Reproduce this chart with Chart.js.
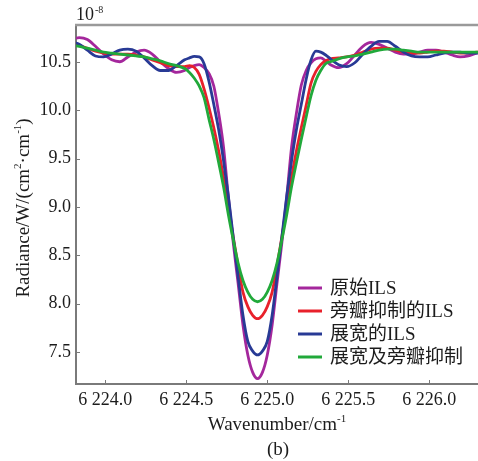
<!DOCTYPE html>
<html>
<head>
<meta charset="utf-8">
<script src="https://cdn.jsdelivr.net/npm/chart.js@4.4.1/dist/chart.umd.min.js"></script>
<style>
  html, body { margin: 0; padding: 0; background: #fff; }
  canvas { display: block; }
</style>
</head>
<body>
<canvas id="ils" width="478" height="461"></canvas>
<script>
// wavenumber grid (cm^-1), finer across the absorption line
const wavenumber = [
  6223.79, 6223.84, 6223.89, 6223.94, 6223.99, 6224.04, 6224.09, 6224.14, 6224.19, 6224.24,
  6224.29, 6224.34, 6224.39, 6224.44, 6224.49,
  6224.52, 6224.55, 6224.58, 6224.61, 6224.64, 6224.67, 6224.70, 6224.73, 6224.76, 6224.79,
  6224.82, 6224.85, 6224.88, 6224.91, 6224.94, 6224.97, 6225.00, 6225.03, 6225.06, 6225.09,
  6225.12, 6225.15, 6225.18, 6225.21, 6225.24, 6225.27, 6225.30, 6225.33, 6225.36,
  6225.39, 6225.44, 6225.49, 6225.54, 6225.59, 6225.64, 6225.69, 6225.74, 6225.79, 6225.84,
  6225.89, 6225.94, 6225.99, 6226.04, 6226.09, 6226.14, 6226.19, 6226.24, 6226.29, 6226.34
];

// radiance, units of 1e-8 W/(cm^2 cm^-1)
const rawIls = [
  10.73, 10.75, 10.73, 10.66, 10.58, 10.52, 10.50, 10.55, 10.60, 10.62,
  10.58, 10.50, 10.43, 10.39, 10.41,
  10.44, 10.46, 10.47, 10.44, 10.38, 10.25, 9.97, 9.62, 9.10, 8.63,
  8.21, 7.78, 7.47, 7.29, 7.225, 7.29, 7.47, 7.78, 8.21, 8.63,
  9.10, 9.62, 9.97, 10.26, 10.41, 10.49, 10.53, 10.54, 10.51,
  10.47, 10.44, 10.48, 10.57, 10.66, 10.70, 10.68, 10.64, 10.60, 10.58,
  10.58, 10.60, 10.62, 10.62, 10.60, 10.57, 10.55, 10.56, 10.59, 10.61
];
const suppressedIls = [
  10.69, 10.67, 10.64, 10.61, 10.59, 10.58, 10.58, 10.58, 10.57, 10.55,
  10.52, 10.49, 10.46, 10.45, 10.45,
  10.46, 10.44, 10.37, 10.22, 10.03, 9.82, 9.58, 9.31, 9.01, 8.69,
  8.39, 8.12, 7.97, 7.88, 7.845, 7.88, 7.97, 8.12, 8.39, 8.69,
  9.01, 9.31, 9.58, 9.82, 10.05, 10.28, 10.40, 10.47, 10.51,
  10.53, 10.54, 10.55, 10.57, 10.60, 10.63, 10.64, 10.64, 10.62, 10.60,
  10.59, 10.59, 10.60, 10.61, 10.61, 10.60, 10.59, 10.59, 10.60, 10.60
];
const broadenedIls = [
  10.71, 10.68, 10.62, 10.56, 10.55, 10.58, 10.62, 10.63, 10.61, 10.54,
  10.46, 10.41, 10.41, 10.46, 10.52,
  10.54, 10.555, 10.55, 10.48, 10.30, 10.06, 9.80, 9.48, 9.11, 8.69,
  8.28, 7.88, 7.61, 7.51, 7.47, 7.51, 7.61, 7.88, 8.28, 8.69,
  9.11, 9.48, 9.80, 10.06, 10.32, 10.52, 10.61, 10.60, 10.57,
  10.53, 10.47, 10.45, 10.49, 10.58, 10.66, 10.71, 10.71, 10.66, 10.60,
  10.56, 10.55, 10.55, 10.57, 10.59, 10.60, 10.60, 10.59, 10.59, 10.59
];
const broadenedSuppressed = [
  10.67, 10.66, 10.64, 10.62, 10.60, 10.59, 10.58, 10.57, 10.56, 10.55,
  10.53, 10.51, 10.48, 10.46, 10.43,
  10.39, 10.33, 10.25, 10.13, 9.91, 9.70, 9.46, 9.21, 8.92, 8.66,
  8.42, 8.24, 8.12, 8.045, 8.02, 8.045, 8.12, 8.24, 8.42, 8.66,
  8.92, 9.21, 9.46, 9.70, 9.93, 10.15, 10.31, 10.41, 10.48,
  10.50, 10.53, 10.55, 10.56, 10.58, 10.60, 10.62, 10.63, 10.63, 10.62,
  10.61, 10.60, 10.60, 10.60, 10.60, 10.60, 10.60, 10.60, 10.60, 10.60
];

const seriesLabels = ["原始ILS", "旁瓣抑制的ILS", "展宽的ILS", "展宽及旁瓣抑制"];
const seriesColors = ["#a4279c", "#e8212b", "#283a95", "#21a93a"];
const xTicks = [6224.0, 6224.5, 6225.0, 6225.5, 6226.0];
const yTicks = [7.5, 8.0, 8.5, 9.0, 9.5, 10.0, 10.5];

const serif = "'Liberation Serif', 'Times New Roman', serif";
const mixed = "'Liberation Serif', 'Noto Sans CJK SC', serif";
const axisGray = "#7a7a7a";
const textColor = "#1c1c1c";

// text with superscript runs: parts = [[text, isSup], ...]
function drawRich(ctx, parts, x, y, size) {
  const big = size + "px " + serif;
  const small = Math.round(size * 0.6) + "px " + serif;
  let total = 0;
  for (const [t, sup] of parts) {
    ctx.font = sup ? small : big;
    total += ctx.measureText(t).width;
  }
  let cx = x - total / 2;
  for (const [t, sup] of parts) {
    ctx.font = sup ? small : big;
    ctx.fillText(t, cx, sup ? y - size * 0.42 : y);
    cx += ctx.measureText(t).width;
  }
}

const decorations = {
  id: "decorations",
  afterDraw(chart) {
    const { ctx, chartArea: a, scales } = chart;
    ctx.save();

    // top frame line
    ctx.strokeStyle = "#9a9a9a";
    ctx.lineWidth = 2.5;
    ctx.beginPath();
    ctx.moveTo(a.left - 1, a.top);
    ctx.lineTo(a.right, a.top);
    ctx.stroke();

    // inward tick marks
    ctx.strokeStyle = axisGray;
    ctx.lineWidth = 1;
    ctx.beginPath();
    for (const v of xTicks) {
      const px = Math.round(scales.x.getPixelForValue(v)) + 0.5;
      ctx.moveTo(px, a.bottom);
      ctx.lineTo(px, a.bottom - 4);
    }
    for (const v of yTicks) {
      const py = Math.round(scales.y.getPixelForValue(v)) + 0.5;
      ctx.moveTo(a.left, py);
      ctx.lineTo(a.left + 4, py);
    }
    ctx.stroke();

    ctx.fillStyle = textColor;
    ctx.textBaseline = "alphabetic";
    ctx.textAlign = "left";

    // exponent above the y axis
    ctx.font = "18px " + serif;
    ctx.fillText("10", 76, 20);
    ctx.font = "10px " + serif;
    ctx.fillText("-8", 95, 13);

    // axis titles
    drawRich(ctx, [["Wavenumber/cm", false], ["-1", true]], (a.left + a.right) / 2, 430, 19);
    ctx.save();
    ctx.translate(29, 208);
    ctx.rotate(-Math.PI / 2);
    drawRich(ctx, [["Radiance/W/(cm", false], ["2", true], ["·cm", false], ["-1", true], [")", false]], 0, 0, 19);
    ctx.restore();

    ctx.font = "19px " + serif;
    ctx.textAlign = "center";
    ctx.fillText("(b)", 278, 455);

    // legend
    ctx.textAlign = "left";
    ctx.textBaseline = "middle";
    ctx.font = "19px " + mixed;
    chart.data.datasets.forEach((ds, i) => {
      const y = 288 + i * 23;
      ctx.strokeStyle = ds.borderColor;
      ctx.lineWidth = 3;
      ctx.beginPath();
      ctx.moveTo(298, y);
      ctx.lineTo(322, y);
      ctx.stroke();
      ctx.fillText(ds.label, 330, y + 1);
    });

    ctx.restore();
  }
};

const seriesData = [rawIls, suppressedIls, broadenedIls, broadenedSuppressed];
const drawOrder = [4, 3, 2, 1];

new Chart(document.getElementById("ils"), {
  type: "line",
  data: {
    datasets: seriesData.map((vals, i) => ({
      label: seriesLabels[i],
      data: wavenumber.map((w, j) => ({ x: w, y: vals[j] })),
      borderColor: seriesColors[i],
      borderWidth: 2.8,
      pointRadius: 0,
      cubicInterpolationMode: "monotone",
      fill: false,
      order: drawOrder[i]
    }))
  },
  options: {
    responsive: false,
    animation: false,
    devicePixelRatio: 1,
    layout: { padding: { top: 25, right: 0, bottom: 0, left: 0 } },
    plugins: { legend: { display: false }, tooltip: { enabled: false } },
    scales: {
      x: {
        type: "linear",
        min: 6223.82,
        max: 6226.30,
        afterFit(s) { s.height = 77; },
        afterBuildTicks(s) { s.ticks = xTicks.map(v => ({ value: v })); },
        grid: { display: false, drawTicks: false },
        border: { display: true, color: axisGray, width: 2 },
        ticks: {
          padding: 5,
          color: textColor,
          maxRotation: 0,
          autoSkip: false,
          font: { family: serif, size: 18 },
          callback: v => {
            const s = v.toFixed(1);
            return s[0] + " " + s.slice(1);
          }
        }
      },
      y: {
        type: "linear",
        min: 7.17,
        max: 10.88,
        afterFit(s) { s.width = 76; },
        afterBuildTicks(s) { s.ticks = yTicks.map(v => ({ value: v })); },
        grid: { display: false, drawTicks: false },
        border: { display: true, color: axisGray, width: 2 },
        ticks: {
          padding: 5,
          color: textColor,
          autoSkip: false,
          font: { family: serif, size: 18 },
          callback: v => v.toFixed(1)
        }
      }
    }
  },
  plugins: [decorations]
});
</script>
</body>
</html>
